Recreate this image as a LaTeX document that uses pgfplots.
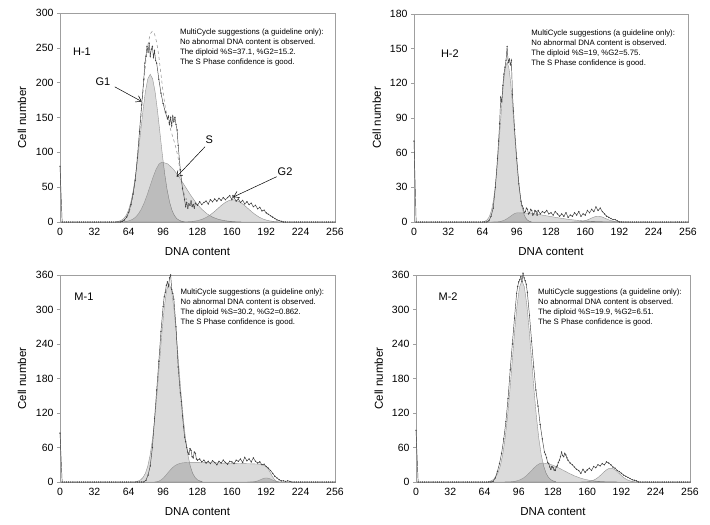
\documentclass[border=0pt]{standalone}
\usepackage{pgfplots}
\pgfplotsset{compat=1.18}
\usepackage{fontspec}
\setmainfont{Liberation Sans}
\usetikzlibrary{arrows.meta}
\tikzset{
  note/.style={anchor=north west, align=left, font=\fontsize{7.8}{10}\selectfont, inner sep=0pt},
  plab/.style={anchor=center, font=\fontsize{11}{13}\selectfont},
}
\pgfplotsset{
  panel/.style={
    scale only axis, anchor=south west,
    xmin=0, xmax=256, ymin=0,
    xtick={0,32,64,96,128,160,192,224,256},
    axis line style={gray!75, line width=0.6pt},
    tick align=outside, ytick pos=left, xtick pos=bottom,
    major tick length=3pt,
    xtick style={draw=none},
    ytick style={gray!75, line width=0.5pt},
    /pgf/number format/assume math mode=true,
    ticklabel style={font=\fontsize{10.5}{12}\selectfont, text=black},
    label style={font=\fontsize{11.5}{13}\selectfont},
    xlabel={DNA content}, ylabel={Cell number},
    xlabel style={at={(axis description cs:0.5,-0.144)}, anchor=center},
    ylabel style={at={(axis description cs:-0.138,0.5)}, anchor=center, rotate=0},
    clip=false,
  },
  comp/.style={draw=gray!85, line width=0.4pt, fill=black, fill opacity=0.14, mark=none},
  meas/.style={black!75, line width=0.45pt, mark=*, mark size=0.38pt, mark options={fill=black!75, draw=black!75}},
}
\begin{document}
\begin{tikzpicture}
\path[use as bounding box] (0,0) rectangle (710pt,525pt);

% ---------------- H-1 ----------------
\begin{axis}[panel, at={(60pt,303pt)}, width=275pt, height=209pt, ymax=300, ytick={0,50,100,150,200,250,300}]
\addplot[comp] coordinates {(52.5,0.5)(54.75,1.1)(57,2.4)(59.25,4.8)(61.5,9.3)(63.75,16.9)(66,28.7)(68.25,45.9)(70.5,68.8)(72.75,97.1)(75,128.6)(77.25,160.0)(79.5,187.1)(81.75,205.5)(84,212)(86.25,205.5)(88.5,187.1)(90.75,160.0)(93,128.6)(95.25,97.1)(97.5,68.8)(99.75,45.9)(102,28.7)(104.25,16.9)(106.5,9.3)(108.75,4.8)(111,2.4)(113.25,1.1)(115.5,0.5)} \closedcycle;
\addplot[comp] coordinates {(56.5,0.2)(59.25,0.4)(62,1.0)(64.75,2.0)(67.5,3.8)(70.25,6.8)(73,11.6)(75.75,18.6)(78.5,27.9)(81.25,39.4)(84,52.2)(86.75,64.9)(89.5,75.9)(92.25,83.4)(95,86)(100.25,83.4)(105.5,75.9)(110.75,64.9)(116,52.2)(121.25,39.4)(126.5,27.9)(131.75,18.6)(137,11.6)(142.25,6.8)(147.5,3.8)(152.75,2.0)(158,1.0)(163.25,0.4)(168.5,0.2)} \closedcycle;
\addplot[comp] coordinates {(112,0.1)(115.5,0.2)(119,0.4)(122.5,0.7)(126,1.4)(129.5,2.5)(133,4.3)(136.5,6.9)(140,10.4)(143.5,14.6)(147,19.4)(150.5,24.2)(154,28.2)(157.5,31.0)(161,32)(164.5,31.0)(168,28.2)(171.5,24.2)(175,19.4)(178.5,14.6)(182,10.4)(185.5,6.9)(189,4.3)(192.5,2.5)(196,1.4)(199.5,0.7)(203,0.4)(206.5,0.2)(210,0.1)} \closedcycle;
\addplot[gray!90, dashed, line width=0.5pt, mark=none] coordinates {(58,1)(60,3)(62,6)(64,12)(66,22)(68,38)(70,60)(72,90)(74,125)(76,162)(78,200)(80,232)(82,256)(84,270)(86,274)(88,270)(90,258)(92,238)(94,212)(96,186)(98,165)(100,150)(102,138)(104,127)(106,117)(108,106)(110,92)(112,70)(114,50)(116,38)(118,32)};
\addplot[meas] coordinates {(0,80)(2,0)(4,0)(6,0)(8,0)(10,0)(12,0)(14,0)(16,0)(18,0)(20,0)(22,0)(24,0)(26,0)(28,0)(30,0)(32,0)(34,0)(36,0)(38,0)(40,0)(42,0)(44,0)(46,0)(48,0)(50,0)(52,0)(54,0)(56,0)(58,1)(60,3)(62,7)(64,14)(66,25)(68,40)(70,60)(72,92)(74,130)(76,168)(78,205)(79,228)(80,238)(81,252)(82,244)(83,256)(84,238)(85,248)(86,252)(87,236)(88,246)(89,232)(90,228)(92,205)(94,185)(96,170)(98,158)(100,148)(101,152)(102,140)(103,150)(104,138)(105,152)(106,144)(107,150)(108,140)(109,132)(110,110)(112,75)(114,48)(116,32)(117,22)(118,28)(119,20)(120,26)(121,24)(122,30)(123,22)(124,25)(125,20)(126,27)(128,24)(130,29)(132,25)(134,28)(136,30)(138,26)(140,32)(142,29)(144,33)(146,30)(148,34)(150,31)(152,35)(154,32)(156,35)(158,38)(160,32)(161,38)(162,35)(164,30)(166,33)(168,28)(170,31)(172,26)(174,29)(176,25)(178,27)(180,22)(182,24)(184,19)(186,21)(188,16)(190,17)(192,13)(194,11)(196,9)(198,7)(200,5)(202,3)(204,2)(206,1)(208,0)(210,0)(212,0)(214,0)(216,0)(218,0)(220,0)(222,0)(224,0)(226,0)(228,0)(230,0)(232,0)(234,0)(236,0)(238,0)(240,0)(242,0)(244,0)(246,0)(248,0)(250,0)(252,0)(254,0)(256,0)};
\node[plab] at (rel axis cs:0.08,0.813) {H-1};
\node[note] at (rel axis cs:0.436,0.925) {MultiCycle suggestions (a guideline only):\\No abnormal DNA content is observed.\\The diploid \%S=37.1, \%G2=15.2.\\The S Phase confidence is good.};
\node[plab] at (axis cs:40,201) {G1};
\node[plab] at (axis cs:139,118) {S};
\node[plab] at (axis cs:209.5,72) {G2};
\draw[-{Straight Barb[length=5pt,width=7pt]}, line width=0.5pt] (axis cs:51,194) -- (axis cs:76,173);
\draw[-{Straight Barb[length=5pt,width=7pt]}, line width=0.5pt] (axis cs:135,108) -- (axis cs:108.6,65);
\draw[-{Straight Barb[length=5pt,width=7pt]}, line width=0.5pt] (axis cs:201.7,65) -- (axis cs:161.5,36);
\end{axis}

% ---------------- H-2 ----------------
\begin{axis}[panel, at={(414pt,303pt)}, width=274pt, height=208pt, ymax=180, ytick={0,30,60,90,120,150,180}, ylabel style={at={(axis description cs:-0.136,0.5)}}]
\addplot[comp] coordinates {(64.6,0.3)(66.2,0.7)(67.8,1.5)(69.4,3.1)(71,6.1)(72.6,11.0)(74.2,18.7)(75.8,29.8)(77.4,44.8)(79,63.2)(80.6,83.7)(82.2,104.2)(83.8,121.8)(85.4,133.7)(87,138)(88.6,133.7)(90.2,121.8)(91.8,104.2)(93.4,83.7)(95,63.2)(96.6,44.8)(98.2,29.8)(99.8,18.7)(101.4,11.0)(103,6.1)(104.6,3.1)(106.2,1.5)(107.8,0.7)(109.4,0.3)} \closedcycle;
\addplot[comp] coordinates {(72.5,0.02)(74.25,0.04)(76,0.09)(77.75,0.18)(79.5,0.35)(81.25,0.64)(83,1.08)(84.75,1.73)(86.5,2.6)(88.25,3.66)(90,4.85)(91.75,6.04)(93.5,7.06)(95.25,7.75)(97,8)(104.5,7.75)(112,7.06)(119.5,6.04)(127,4.85)(134.5,3.66)(142,2.6)(149.5,1.73)(157,1.08)(164.5,0.64)(172,0.35)(179.5,0.18)(187,0.09)(194.5,0.04)(202,0.02)} \closedcycle;
\addplot[comp] coordinates {(147.5,0.01)(151,0.06)(154.5,0.22)(158,0.68)(161.5,1.62)(163.25,2.29)(165,3.03)(166.75,3.77)(168.5,4.41)(170.25,4.85)(172,5)(173.75,4.85)(175.5,4.41)(177.25,3.77)(179,3.03)(180.75,2.29)(182.5,1.62)(186,0.68)(189.5,0.22)(193,0.06)(196.5,0.01)} \closedcycle;
\addplot[meas] coordinates {(0,70)(2,0)(4,0)(6,0)(8,0)(10,0)(12,0)(14,0)(16,0)(18,0)(20,0)(22,0)(24,0)(26,0)(28,0)(30,0)(32,0)(34,0)(36,0)(38,0)(40,0)(42,0)(44,0)(46,0)(48,0)(50,0)(52,0)(54,0)(56,0)(58,0)(60,0)(62,0)(64,0)(66,0)(68,0)(70,1)(72,5)(74,12)(76,30)(78,55)(79,70)(80,85)(81,108)(82,104)(83,118)(84,128)(85,134)(86,140)(87,152)(88,138)(89,141)(90,136)(91,140)(92,110)(93,96)(94,80)(96,55)(98,33)(100,18)(101,14)(102,12)(103,8)(104,9)(105,12)(106,11)(107,7)(108,8)(109,11)(110,10)(111,6)(112,7)(113,10)(114,9)(115,6)(116,10)(118,7)(120,9)(122,8)(124,10)(126,7)(128,8)(130,6)(132,9)(134,7)(136,5)(138,7)(140,5)(142,8)(144,4)(146,6)(148,5)(150,8)(152,6)(154,9)(156,5)(158,7)(160,6)(162,10)(164,8)(166,11)(168,9)(170,13)(172,10)(174,12)(176,9)(178,7)(180,5)(182,4)(184,3)(186,2)(188,2)(190,1)(192,0)(194,0)(196,0)(198,0)(200,0)(202,0)(204,0)(206,0)(208,0)(210,0)(212,0)(214,0)(216,0)(218,0)(220,0)(222,0)(224,0)(226,0)(228,0)(230,0)(232,0)(234,0)(236,0)(238,0)(240,0)(242,0)(244,0)(246,0)(248,0)(250,0)(252,0)(254,0)(256,0)};
\node[plab] at (rel axis cs:0.131,0.81) {H-2};
\node[note] at (rel axis cs:0.428,0.925) {MultiCycle suggestions (a guideline only):\\No abnormal DNA content is observed.\\The diploid \%S=19, \%G2=5.75.\\The S Phase confidence is good.};
\end{axis}

% ---------------- M-1 ----------------
\begin{axis}[panel, at={(60pt,43pt)}, width=275pt, height=207pt, ymax=360, ytick={0,60,120,180,240,300,360}, xlabel style={at={(axis description cs:0.5,-0.145)}}]
\addplot[comp] coordinates {(70.7,0.8)(72.9,1.8)(75.1,3.8)(77.3,7.9)(79.5,15.1)(81.7,27.5)(83.9,46.7)(86.1,74.6)(88.3,112.0)(90.5,157.9)(92.7,209.2)(94.9,260.4)(97.1,304.5)(99.3,334.4)(101.5,345)(103.7,334.4)(105.9,304.5)(108.1,260.4)(110.3,209.2)(112.5,157.9)(114.7,112.0)(116.9,74.6)(119.1,46.7)(121.3,27.5)(123.5,15.1)(125.7,7.9)(127.9,3.8)(130.1,1.8)(132.3,0.8)} \closedcycle;
\addplot[comp] coordinates {(88,0)(90,0.5)(92,1.5)(94,3.5)(96,6.5)(98,10.5)(100,15)(102,19.5)(104,23.5)(106,27)(108,29.5)(110,31.3)(112,32.5)(114,33.2)(116,33.6)(120,34)(130,34)(140,33.5)(150,33)(160,32.5)(170,32)(180,31.5)(186,31)(190,29)(193,25)(195,19)(197,12)(199,6)(201,2)(203,0)} \closedcycle;
\addplot[comp] coordinates {(174.5,0.02)(177,0.07)(179.5,0.31)(182,0.95)(184.5,2.27)(185.75,3.2)(187,4.25)(188.25,5.28)(189.5,6.18)(190.75,6.78)(192,7)(193.25,6.78)(194.5,6.18)(195.75,5.28)(197,4.25)(198.25,3.2)(199.5,2.27)(202,0.95)(204.5,0.31)(207,0.07)(209.5,0.02)} \closedcycle;
\addplot[meas] coordinates {(0,85)(2,0)(4,0)(6,0)(8,0)(10,0)(12,0)(14,0)(16,0)(18,0)(20,0)(22,0)(24,0)(26,0)(28,0)(30,0)(32,0)(34,0)(36,0)(38,0)(40,0)(42,0)(44,0)(46,0)(48,0)(50,0)(52,0)(54,0)(56,0)(58,0)(60,0)(62,0)(64,0)(66,0)(68,0)(70,0)(72,0)(74,0)(76,0)(78,0)(80,3)(82,12)(84,28)(86,60)(88,110)(90,160)(92,210)(94,262)(96,305)(97,322)(98,330)(99,342)(100,348)(101,340)(102,355)(103,360)(104,335)(105,328)(106,318)(108,270)(110,200)(112,155)(113,140)(114,115)(115,96)(116,78)(117,70)(118,60)(119,52)(120,48)(121,58)(122,55)(123,44)(124,42)(125,52)(126,50)(127,40)(128,38)(130,40)(132,35)(134,38)(136,33)(138,36)(140,32)(142,37)(144,34)(146,30)(148,36)(150,33)(152,38)(154,34)(156,31)(158,36)(160,35)(162,32)(164,38)(166,36)(168,40)(170,34)(172,43)(174,37)(176,40)(178,35)(180,42)(182,36)(184,33)(186,35)(188,30)(190,31)(192,27)(194,24)(196,20)(198,15)(200,10)(202,7)(204,4)(206,2)(208,2)(210,1)(212,2)(214,1)(216,0)(218,0)(220,0)(222,0)(224,0)(226,0)(228,0)(230,0)(232,0)(234,0)(236,0)(238,0)(240,0)(242,0)(244,0)(246,0)(248,0)(250,0)(252,0)(254,0)(256,0)};
\node[plab] at (rel axis cs:0.087,0.895) {M-1};
\node[note] at (rel axis cs:0.438,0.935) {MultiCycle suggestions (a guideline only):\\No abnormal DNA content is observed.\\The diploid \%S=30.2, \%G2=0.862.\\The S Phase confidence is good.};
\end{axis}

% ---------------- M-2 ----------------
\begin{axis}[panel, at={(416pt,43pt)}, width=274pt, height=207pt, ymax=360, ytick={0,60,120,180,240,300,360}, xlabel style={at={(axis description cs:0.5,-0.145)}}, ylabel style={at={(axis description cs:-0.136,0.5)}}]
\addplot[comp] coordinates {(67.5,0.8)(69.75,1.8)(72,3.9)(74.25,8.0)(76.5,15.4)(78.75,27.9)(81,47.4)(83.25,75.7)(85.5,113.6)(87.75,160.2)(90,212.3)(92.25,264.2)(94.5,308.9)(96.75,339.2)(99,350)(101.25,339.2)(103.5,308.9)(105.75,264.2)(108,212.3)(110.25,160.2)(112.5,113.6)(114.75,75.7)(117,47.4)(119.25,27.9)(121.5,15.4)(123.75,8.0)(126,3.9)(128.25,1.8)(130.5,0.8)} \closedcycle;
\addplot[comp] coordinates {(83,0.07)(85.5,0.17)(88,0.37)(90.5,0.75)(93,1.45)(95.5,2.63)(98,4.46)(100.5,7.14)(103,10.7)(105.5,15.1)(108,20.0)(110.5,24.9)(113,29.1)(115.5,32.0)(118,33)(123,32.0)(128,29.1)(133,24.9)(138,20.0)(143,15.1)(148,10.7)(153,7.14)(158,4.46)(163,2.63)(168,1.45)(173,0.75)(178,0.37)(183,0.17)(188,0.07)} \closedcycle;
\addplot[comp] coordinates {(154,0.05)(156,0.12)(158,0.27)(160,0.55)(162,1.05)(164,1.91)(166,3.25)(168,5.19)(170,7.79)(172,11.0)(174,14.6)(176,18.1)(178,21.2)(180,23.3)(182,24)(184,23.3)(186,21.2)(188,18.1)(190,14.6)(192,11.0)(194,7.79)(196,5.19)(198,3.25)(200,1.91)(202,1.05)(204,0.55)(206,0.27)(208,0.12)(210,0.05)} \closedcycle;
\addplot[meas] coordinates {(0,90)(2,0)(4,0)(6,0)(8,0)(10,0)(12,0)(14,0)(16,0)(18,0)(20,0)(22,0)(24,0)(26,0)(28,0)(30,0)(32,0)(34,0)(36,0)(38,0)(40,0)(42,0)(44,0)(46,0)(48,0)(50,0)(52,0)(54,0)(56,0)(58,0)(60,0)(62,0)(64,0)(66,0)(68,0)(70,0)(72,1)(74,7)(76,18)(78,32)(80,50)(82,75)(84,105)(86,145)(88,195)(90,240)(92,285)(94,328)(95,340)(96,348)(97,352)(98,357)(99,349)(100,363)(101,355)(102,350)(103,344)(104,330)(106,290)(108,245)(110,200)(112,160)(114,132)(116,100)(118,75)(120,52)(121,48)(122,42)(123,34)(124,32)(125,26)(126,22)(127,27)(128,25)(129,21)(130,20)(131,26)(132,28)(133,34)(134,38)(135,44)(136,52)(137,46)(138,44)(139,50)(140,47)(141,42)(142,38)(144,33)(146,30)(148,26)(150,22)(152,20)(154,15)(156,22)(158,17)(160,21)(162,24)(164,20)(166,27)(168,25)(170,30)(172,28)(174,32)(176,30)(178,35)(180,33)(182,30)(184,26)(186,24)(188,20)(190,18)(192,15)(194,12)(196,10)(198,8)(200,6)(202,4)(204,3)(206,2)(208,0)(210,0)(212,0)(214,0)(216,0)(218,0)(220,0)(222,0)(224,0)(226,0)(228,0)(230,0)(232,0)(234,0)(236,0)(238,0)(240,0)(242,0)(244,0)(246,0)(248,0)(250,0)(252,0)(254,0)(256,0)};
\node[plab] at (rel axis cs:0.117,0.895) {M-2};
\node[note] at (rel axis cs:0.445,0.935) {MultiCycle suggestions (a guideline only):\\No abnormal DNA content is observed.\\The diploid \%S=19.9, \%G2=6.51.\\The S Phase confidence is good.};
\end{axis}
\end{tikzpicture}
\end{document}
